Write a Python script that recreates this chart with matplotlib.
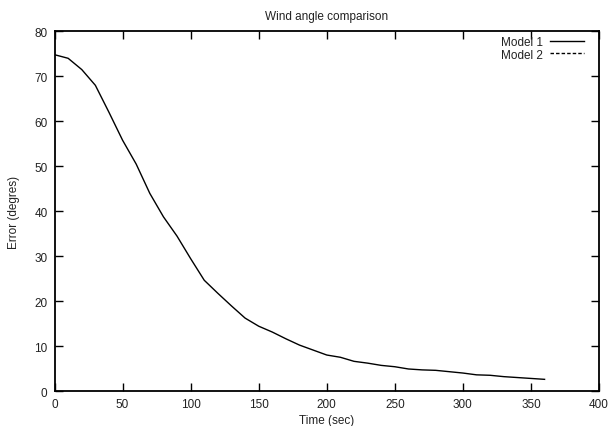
import matplotlib.pyplot as plt

plt.rcParams['font.family'] = ['Liberation Sans', 'DejaVu Sans']

# Error against time, sampled every 10 seconds
time_sec = [0, 10, 20, 30, 40, 50, 60, 70, 80, 90, 100, 110, 120, 130, 140,
            150, 160, 170, 180, 190, 200, 210, 220, 230, 240, 250, 260, 270,
            280, 290, 300, 310, 320, 330, 340, 350, 360]
model1_err = [74.8, 74.0, 71.5, 68.0, 62.0, 55.8, 50.5, 44.0, 38.8, 34.5,
              29.5, 24.7, 21.8, 19.0, 16.3, 14.5, 13.2, 11.7, 10.3, 9.2,
              8.1, 7.6, 6.7, 6.3, 5.8, 5.5, 5.0, 4.8, 4.7, 4.4, 4.1, 3.7,
              3.6, 3.3, 3.1, 2.9, 2.7]
model2_time = []
model2_err = []

fig = plt.figure(figsize=(6.12, 4.27), dpi=100)
ax = fig.add_axes([0.0891, 0.0808, 0.8897, 0.8436])

ax.plot(time_sec, model1_err, color='black', linewidth=1.0, label='Model 1')
ax.plot(model2_time, model2_err, color='black', linewidth=1.0,
        linestyle=(0, (2.5, 1.5)), label='Model 2')

ax.set_xlim(0, 400)
ax.set_ylim(0, 80)
ax.set_xticks(range(0, 401, 50))
ax.set_yticks(range(0, 81, 10))
ax.tick_params(direction='in', length=6, width=1, top=True, right=True,
               labelsize=8.5, pad=5, labelcolor='#222222')
for s in ax.spines.values():
    s.set_linewidth(1.3)

ax.set_title('Wind angle comparison', fontsize=8.5, pad=9, color='#222222')
ax.set_xlabel('Time (sec)', fontsize=8.5, labelpad=2.5, color='#222222')
ax.set_ylabel('Error (degres)', fontsize=8.5, labelpad=10, color='#222222')

leg = ax.legend(loc='upper right', bbox_to_anchor=(0.981, 1.0),
                frameon=False, fontsize=8.5, markerfirst=False,
                handlelength=2.9, handletextpad=0.6, labelspacing=0.05,
                borderaxespad=0)
for t in leg.get_texts():
    t.set_color('#222222')

fig.savefig('out.png', dpi=100)
